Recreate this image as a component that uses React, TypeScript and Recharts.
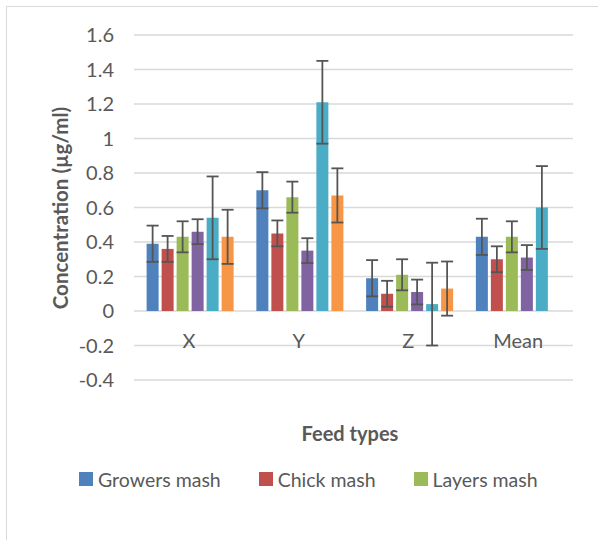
import React from "react";
import { BarChart, Bar, XAxis, YAxis, CartesianGrid, ErrorBar } from "recharts";

const categories = ["X", "Y", "Z", "Mean"];

const growersMash = [0.39, 0.7, 0.19, 0.43];
const chickMash = [0.36, 0.45, 0.1, 0.3];
const layersMash = [0.43, 0.66, 0.21, 0.43];
const series4 = [0.46, 0.35, 0.11, 0.31];
const series5 = [0.54, 1.21, 0.04, 0.6];
const series6 = [0.43, 0.67, 0.13, null];

const growersErr = [0.105, 0.105, 0.105, 0.105];
const chickErr = [0.075, 0.075, 0.075, 0.075];
const layersErr = [0.09, 0.09, 0.09, 0.09];
const series4Err = [0.072, 0.072, 0.072, 0.072];
const series5Err = [0.24, 0.24, 0.24, 0.24];
const series6Err = [0.157, 0.157, 0.157, null];

const yTicks = [-0.4, -0.2, 0, 0.2, 0.4, 0.6, 0.8, 1, 1.2, 1.4, 1.6];

// only the first three entries fit in the legend box of the original
const LEGEND_COUNT = 3;

const series = [
  { key: "growers", name: "Growers mash", color: "#4F81BD", values: growersMash, errors: growersErr },
  { key: "chick", name: "Chick mash", color: "#C0504D", values: chickMash, errors: chickErr },
  { key: "layers", name: "Layers mash", color: "#9BBB59", values: layersMash, errors: layersErr },
  { key: "s4", name: "Series 4", color: "#8064A2", values: series4, errors: series4Err },
  { key: "s5", name: "Series 5", color: "#4BACC6", values: series5, errors: series5Err },
  { key: "s6", name: "Series 6", color: "#F79646", values: series6, errors: series6Err },
];

const data = categories.map((category, i) => {
  const row: Record<string, string | number | null> = { category };
  series.forEach((s) => {
    row[s.key] = s.values[i];
    row[s.key + "Err"] = s.errors[i];
  });
  return row;
});

const FONT = "Lato, 'Noto Sans', sans-serif";
const TEXT = "#595959";

function CategoryTick({ x, y, payload }: { x?: number; y?: number; payload?: { value: string } }) {
  return (
    <text x={x} y={(y ?? 0) - 32} textAnchor="middle" fill={TEXT} fontSize={20} fontFamily={FONT}>
      {payload?.value}
    </text>
  );
}

export default function App() {
  return (
    <div
      style={{
        position: "absolute",
        left: 0,
        top: 0,
        width: 598,
        height: 540,
        overflow: "hidden",
        background: "#fff",
        fontFamily: FONT,
      }}
    >
      <div
        style={{
          position: "absolute",
          left: 6,
          top: 6,
          width: 700,
          height: 700,
          border: "1px solid #d9d9d9",
        }}
      />
      <div style={{ position: "absolute", left: 0, top: 0 }}>
        <BarChart
          width={598}
          height={540}
          data={data}
          margin={{ top: 35, right: 25, left: 0, bottom: 100 }}
          barCategoryGap="11.5%"
          barGap={3}
        >
          <CartesianGrid vertical={false} stroke="#d9d9d9" strokeWidth={1.3} />
          <XAxis
            dataKey="category"
            axisLine={false}
            tickLine={false}
            tickSize={0}
            tickMargin={0}
            height={60}
            tick={<CategoryTick />}
            interval={0}
          />
          <YAxis
            type="number"
            domain={[-0.4, 1.6]}
            ticks={yTicks}
            axisLine={false}
            tickLine={false}
            tickSize={0}
            tickMargin={20}
            width={134}
            tickFormatter={(v: number) => String(Math.round(v * 10) / 10)}
            tick={{ fill: TEXT, fontSize: 20, fontFamily: FONT }}
          />
          {series.map((s) => (
            <Bar key={s.key} dataKey={s.key} name={s.name} fill={s.color} isAnimationActive={false}>
              <ErrorBar dataKey={s.key + "Err"} width={6} stroke="#555555" strokeWidth={1.8} />
            </Bar>
          ))}
        </BarChart>
      </div>
      <div
        style={{
          position: "absolute",
          left: 60,
          top: 208,
          transform: "translate(-50%, -50%) rotate(-90deg)",
          whiteSpace: "nowrap",
          fontWeight: 700,
          fontSize: 20.5,
          color: TEXT,
        }}
      >
        Concentration (µg/ml)
      </div>
      <div
        style={{
          position: "absolute",
          left: 350,
          top: 433,
          transform: "translate(-50%, -50%)",
          whiteSpace: "nowrap",
          fontWeight: 700,
          fontSize: 20,
          color: TEXT,
        }}
      >
        Feed types
      </div>
      <div
        style={{
          position: "absolute",
          left: 79,
          top: 465,
          display: "flex",
          gap: 38,
          alignItems: "center",
          height: 28,
        }}
      >
        {series.slice(0, LEGEND_COUNT).map((s) => (
          <div key={s.key} style={{ display: "flex", alignItems: "center", gap: 5 }}>
            <span style={{ width: 14, height: 14, background: s.color, display: "inline-block" }} />
            <span style={{ fontSize: 19.5, color: TEXT, whiteSpace: "nowrap" }}>{s.name}</span>
          </div>
        ))}
      </div>
    </div>
  );
}
